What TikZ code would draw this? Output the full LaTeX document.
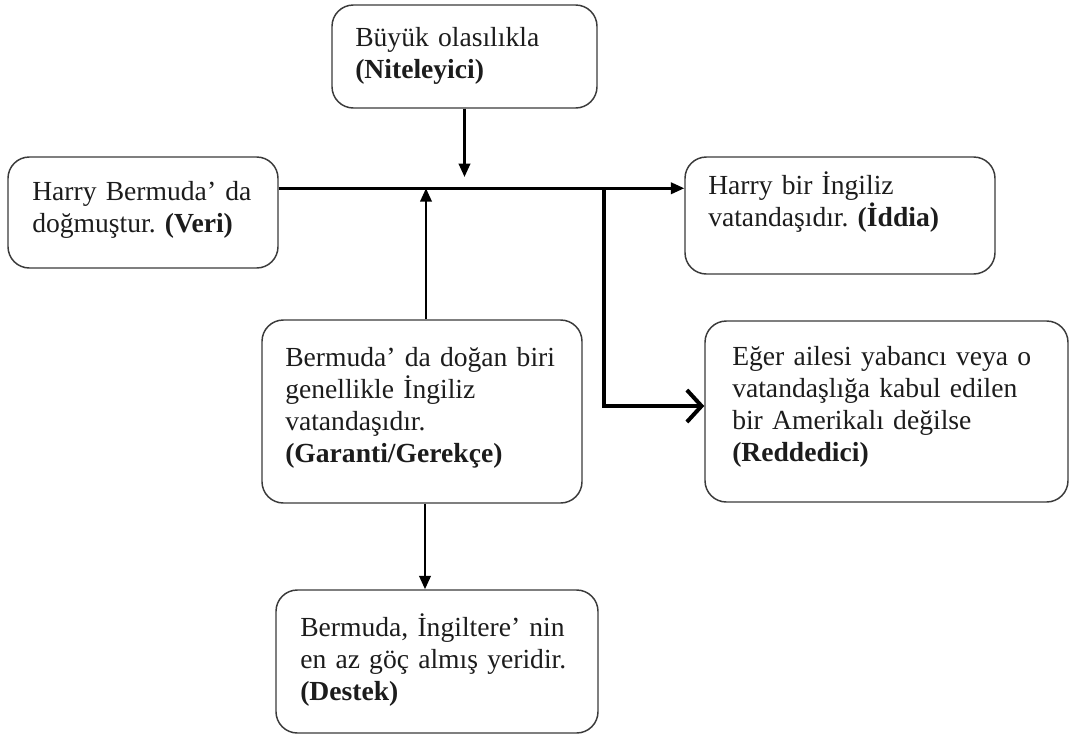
\documentclass[tikz,border=0pt]{standalone}
\usepackage{fontspec}
\setmainfont{Liberation Serif}
\usetikzlibrary{arrows.meta,calc,fit}
\definecolor{boxgray}{HTML}{3A3A3A}
\definecolor{textdark}{HTML}{1C1C1C}
\frenchspacing
\begin{document}
\begin{tikzpicture}[x=0.75pt,y=-0.75pt,
  box/.style={draw=boxgray, line width=1.1pt, rounded corners=16pt, inner sep=0pt},
  txt/.style={anchor=base west, inner sep=0pt, align=left, text width=300pt,
    font=\fontsize{20.7}{24}\selectfont, text=textdark},
  arr/.style={line width=1.9pt, -{Triangle[length=10pt,width=8.5pt]}},
  barb/.style={line width=3pt, line join=miter, -{Straight Barb[length=11pt,width=24pt]}}
]
\useasboundingbox (0,0) rectangle (1072,736);
% boxes
\node[box, fit={(332,5) (597,108)}] (N) {};
\node[box, fit={(8,157) (278,268)}] (V) {};
\node[box, fit={(685,157) (995,274)}] (I) {};
\node[box, fit={(705,321) (1068,502)}] (R) {};
\node[box, fit={(262,320) (582,503)}] (G) {};
\node[box, fit={(276,590) (598,733)}] (D) {};
% texts
\node[txt] (Nt) at (355,46) {Büyük olasılıkla\\\textbf{(Niteleyici)}};
\node[txt] (Vt) at (32,200) {Harry Bermuda’ da\\doğmuştur. \textbf{(Veri)}};
\node[txt] (It) at (708,194) {Harry bir İngiliz\\vatandaşıdır. \textbf{(İddia)}};
\node[txt] (Rt) at (732,365) {Eğer ailesi yabancı veya o\\vatandaşlığa kabul edilen\\bir Amerikalı değilse\\\textbf{(Reddedici)}};
\node[txt] (Gt) at (285,366) {Bermuda’ da doğan biri\\genellikle İngiliz\\vatandaşıdır.\\\textbf{(Garanti/Gerekçe)}};
\node[txt] (Dt) at (300,636) {Bermuda, İngiltere’ nin\\en az göç almış yeridir.\\\textbf{(Destek)}};
% connectors
\coordinate (L) at ($(V.north east)+(0,32)$);
\draw[arr] (L) -- (L -| I.west);
\coordinate (Ny) at (0,177);
\draw[arr] (N.south) -- (N.south |- Ny);
\coordinate (Gn) at ($(G.north)+(4,0)$);
\draw[arr] (Gn) -- (Gn |- L);
\coordinate (B) at ($(L)+(325,0)$);
\coordinate (Rw) at ($(R.west)+(0,-5.5)$);
\draw[barb] ($(B)+(0,-1)$) -- (B |- Rw) -- (Rw);
\coordinate (Gs) at ($(G.south)+(3,0)$);
\draw[arr] (Gs) -- (Gs |- D.north);
\end{tikzpicture}
\end{document}
